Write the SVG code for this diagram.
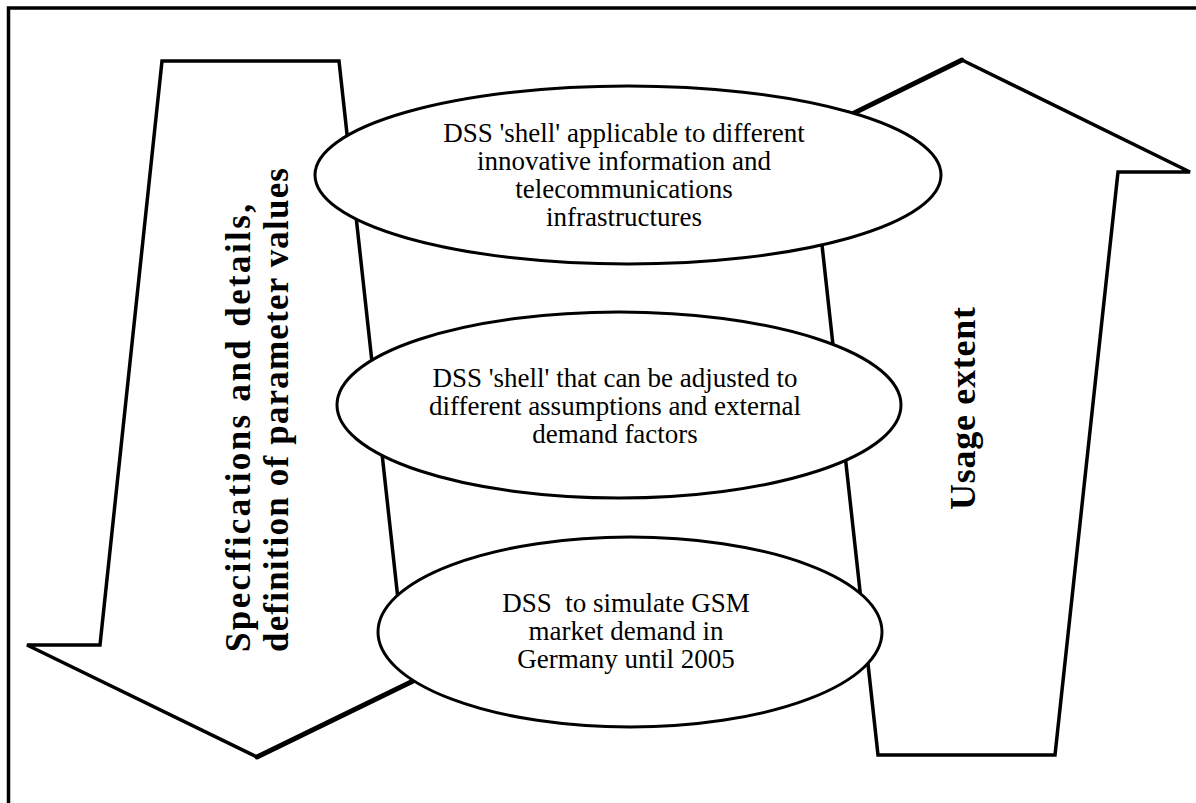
<svg xmlns="http://www.w3.org/2000/svg" width="1196" height="803" viewBox="0 0 1196 803">
  <style>
    .frame { fill: none; stroke: #000; stroke-width: 3.5; }
    .arrow { fill: #fff; stroke: #000; stroke-width: 3.5; stroke-linejoin: miter; }
    .edge { stroke: #000; stroke-width: 5; stroke-linecap: round; fill: none; }
    .oval { fill: #fff; stroke: #000; stroke-width: 3; }
    .label { font-family: "Liberation Serif", "Times New Roman", serif; font-size: 27px; fill: #000; text-anchor: middle; }
    .side { font-family: "Liberation Serif", "Times New Roman", serif; font-weight: bold; fill: #000; }
  </style>

  <rect class="frame" x="8.5" y="8" width="1230" height="850"/>

  <!-- downward flow: specifications -->
  <g id="arrow-down">
    <polygon class="arrow" points="162,61 339,61 403,645 487,645 257,757 27,645 100,645"/>
    <line class="edge" x1="257" y1="757" x2="487" y2="645"/>
    <text class="side" font-size="35" transform="translate(250,652) rotate(-90)" textLength="448" lengthAdjust="spacing">Specifications and details,</text>
    <text class="side" font-size="35" transform="translate(288,652) rotate(-90)" textLength="484" lengthAdjust="spacing">definition of parameter values</text>
  </g>

  <!-- upward flow: usage -->
  <g id="arrow-up">
    <polygon class="arrow" points="962,60 1190,172 1118,172 1055,755 878,755 814,172 734,172"/>
    <line class="edge" x1="962" y1="60" x2="734" y2="172"/>
    <text class="side" font-size="36" transform="translate(975,510) rotate(-90)" textLength="203" lengthAdjust="spacing">Usage extent</text>
  </g>

  <g id="level-top">
    <ellipse class="oval" cx="628" cy="175" rx="313" ry="89"/>
    <text class="label" x="624" y="142">DSS 'shell' applicable to different</text>
    <text class="label" x="624" y="170">innovative information and</text>
    <text class="label" x="624" y="198">telecommunications</text>
    <text class="label" x="624" y="226">infrastructures</text>
  </g>

  <g id="level-middle">
    <ellipse class="oval" cx="619" cy="405" rx="282" ry="93"/>
    <text class="label" x="615" y="387">DSS 'shell' that can be adjusted to</text>
    <text class="label" x="615" y="415">different assumptions and external</text>
    <text class="label" x="615" y="443">demand factors</text>
  </g>

  <g id="level-bottom">
    <ellipse class="oval" cx="630" cy="632" rx="252" ry="95"/>
    <text class="label" x="626" y="612" xml:space="preserve">DSS  to simulate GSM</text>
    <text class="label" x="626" y="640">market demand in</text>
    <text class="label" x="626" y="668">Germany until 2005</text>
  </g>

  <g id="connectors"/>
</svg>
